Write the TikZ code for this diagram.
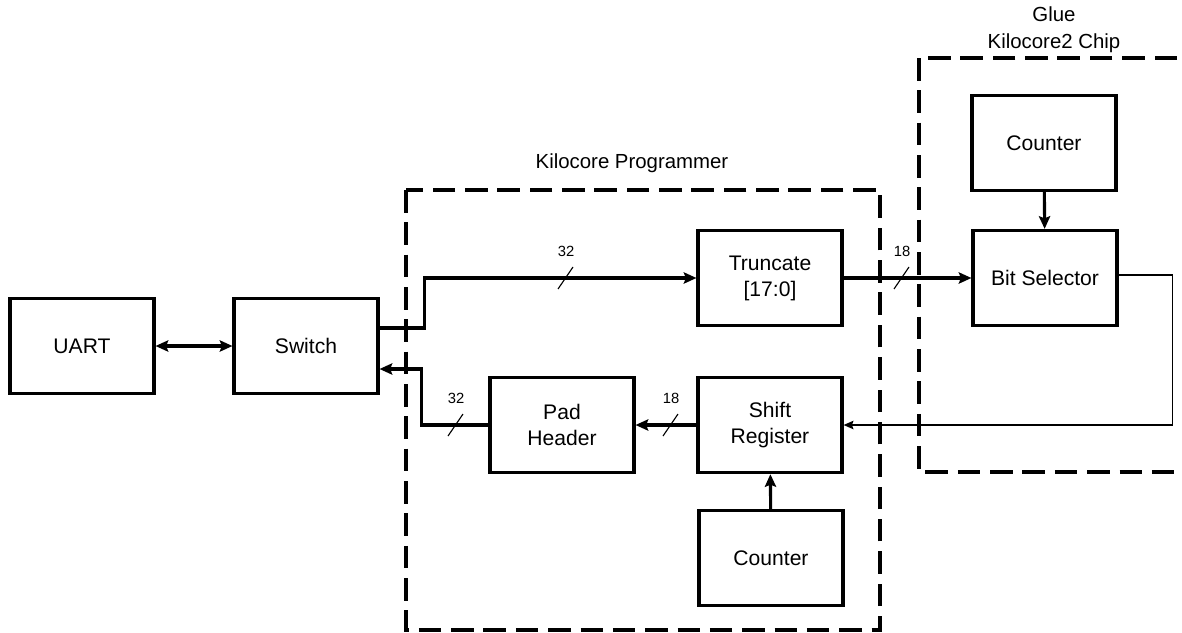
\documentclass[tikz,border=0pt]{standalone}
\usepackage{fontspec}
\setmainfont{Liberation Sans}
\usetikzlibrary{arrows.meta,calc}

\begin{document}
\begin{tikzpicture}[x=0.025cm, y=-0.025cm,
    blockbox/.style={draw, line width=2.2pt, minimum width=3.6cm, minimum height=2.38cm,
      align=center, font=\fontsize{15}{18.5}\selectfont},
    groupbox/.style={line width=2.2pt, dash pattern=on 16pt off 7pt},
    grouplabel/.style={align=center, font=\fontsize{14.5}{19}\selectfont},
    buslabel/.style={font=\fontsize{10.5}{12}\selectfont},
    wire/.style={line width=2.2pt, -{Stealth[length=9pt,width=8pt,inset=1.5pt]}},
    thinwire/.style={line width=1pt, -{Stealth[length=7pt,width=6pt,inset=1pt]}}]
  \useasboundingbox (0,0) rectangle (1182,632);
  % bus width mark: slash plus its label
  \newcommand{\busslash}[4]{\draw[line width=0.8pt] (#1-7,#2+11) -- (#1+8,#2-11);
    \node[buslabel] (#3) at (#1+1,#2-27) {#4};}

  % dashed groups
  \draw[groupbox] (406,190) rectangle (880,630);
  \node[grouplabel] (progname) at (632,163) {Kilocore Programmer};
  \draw[groupbox] (919,58) rectangle (1200,472);
  \node[grouplabel] (chipname) at (1054,30) {Glue\\Kilocore2 Chip};

  % blocks
  \node[blockbox] (uart)   at (82,346)   {UART};
  \node[blockbox] (switch) at (306,346)  {Switch};
  \node[blockbox] (trunc)  at (770,278)  {Truncate\\{}[17:0]};
  \node[blockbox] (pad)    at (562,425)  {Pad\\Header};
  \node[blockbox] (shift)  at (770,425)  {Shift\\Register};
  \node[blockbox] (cnt)    at (771,558)  {Counter};
  \node[blockbox] (cntb)   at (1044,143) {Counter};
  \node[blockbox] (bitsel) at (1045,278) {Bit Selector};

  % connections
  \draw[wire, {Stealth[length=9pt,width=8pt,inset=1.5pt]}-{Stealth[length=9pt,width=8pt,inset=1.5pt]}] (uart) -- (switch);
  \draw[wire] ($(switch.east)+(0,-18)$) -- ++(45,0) |- (trunc.west);
  \draw[wire] (trunc.east) -- (bitsel.west);
  \draw[wire] (cntb) -- (bitsel);
  \draw[thinwire] ($(bitsel.east)+(0,-3)$) -- ++(54,0) |- (shift.east);
  \draw[wire] (cnt) -- (shift);
  \draw[wire] (shift.west) -- (pad.east);
  \draw[wire] (pad.west) -- ++(-67,0) |- ($(switch.east)+(0,23)$);

  % bus widths
  \busslash{565}{278}{w32a}{32}
  \busslash{901}{278}{w18a}{18}
  \busslash{670}{425}{w18b}{18}
  \busslash{455}{425}{w32b}{32}
\end{tikzpicture}
\end{document}
